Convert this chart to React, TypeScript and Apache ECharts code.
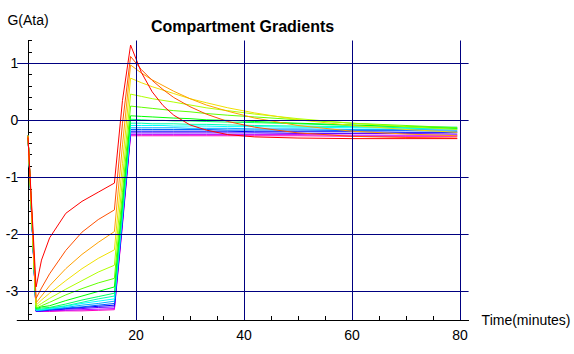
import { useEffect, useRef } from "react";
import * as echarts from "echarts";

// time (minutes)
const TIME = [0, 1.5, 2.5, 4, 7, 10, 13, 16, 17.5, 19, 21, 23, 25, 27, 30, 33, 37, 42, 50, 60, 70, 79.5];

// compartment gradients G(Ata), fastest (red) to slowest (magenta)
const C01 = [-0.30, -2.92, -2.45, -2.06, -1.63, -1.42, -1.26, -1.10, 0.35, 1.32, 0.84, 0.50, 0.26, 0.09, -0.08, -0.17, -0.25, -0.29, -0.31, -0.32, -0.32, -0.32];
const C02 = [-0.27, -3.12, -2.94, -2.69, -2.28, -1.96, -1.74, -1.57, -0.05, 1.12, 0.89, 0.70, 0.54, 0.40, 0.24, 0.11, -0.02, -0.12, -0.22, -0.28, -0.30, -0.31];
const C03 = [-0.27, -3.20, -3.08, -2.90, -2.60, -2.35, -2.14, -1.95, -0.43, 0.97, 0.83, 0.71, 0.61, 0.51, 0.38, 0.27, 0.16, 0.04, -0.09, -0.19, -0.24, -0.27];
const C04 = [-0.27, -3.24, -3.15, -3.03, -2.81, -2.60, -2.42, -2.27, -0.76, 0.74, 0.66, 0.59, 0.53, 0.47, 0.38, 0.31, 0.22, 0.13, 0.01, -0.09, -0.16, -0.21];
const C05 = [-0.27, -3.27, -3.21, -3.12, -2.96, -2.81, -2.66, -2.54, -1.03, 0.46, 0.42, 0.38, 0.35, 0.32, 0.27, 0.22, 0.17, 0.11, 0.03, -0.05, -0.11, -0.16];
const C06 = [-0.27, -3.29, -3.25, -3.19, -3.06, -2.95, -2.85, -2.77, -1.26, 0.25, 0.23, 0.21, 0.19, 0.17, 0.15, 0.12, 0.09, 0.06, 0.01, -0.05, -0.09, -0.13];
const C07 = [-0.27, -3.30, -3.27, -3.25, -3.16, -3.08, -3.00, -2.92, -1.41, 0.08, 0.07, 0.06, 0.05, 0.04, 0.03, 0.01, 0.00, -0.02, -0.05, -0.08, -0.11, -0.14];
const C08 = [-0.27, -3.31, -3.29, -3.28, -3.22, -3.15, -3.09, -3.03, -1.52, 0.02, 0.01, 0.00, 0.00, -0.01, -0.01, -0.02, -0.03, -0.04, -0.06, -0.09, -0.11, -0.12];
const C09 = [-0.27, -3.32, -3.31, -3.29, -3.25, -3.19, -3.13, -3.08, -1.58, -0.05, -0.05, -0.06, -0.06, -0.06, -0.07, -0.07, -0.08, -0.09, -0.10, -0.11, -0.13, -0.14];
const C10 = [-0.27, -3.33, -3.32, -3.30, -3.26, -3.21, -3.17, -3.13, -1.63, -0.09, -0.09, -0.09, -0.09, -0.10, -0.10, -0.10, -0.11, -0.11, -0.12, -0.13, -0.14, -0.15];
const C11 = [-0.27, -3.33, -3.33, -3.31, -3.28, -3.24, -3.21, -3.17, -1.67, -0.13, -0.13, -0.13, -0.13, -0.13, -0.14, -0.14, -0.14, -0.15, -0.15, -0.16, -0.16, -0.17];
const C12 = [-0.27, -3.34, -3.33, -3.32, -3.29, -3.27, -3.24, -3.21, -1.71, -0.16, -0.16, -0.16, -0.16, -0.16, -0.16, -0.16, -0.17, -0.17, -0.17, -0.18, -0.18, -0.19];
const C13 = [-0.27, -3.34, -3.34, -3.32, -3.30, -3.28, -3.26, -3.24, -1.74, -0.19, -0.19, -0.19, -0.19, -0.19, -0.19, -0.19, -0.19, -0.20, -0.20, -0.20, -0.21, -0.21];
const C14 = [-0.27, -3.35, -3.34, -3.33, -3.31, -3.30, -3.28, -3.27, -1.77, -0.22, -0.22, -0.22, -0.22, -0.22, -0.22, -0.22, -0.22, -0.22, -0.23, -0.23, -0.23, -0.24];
const C15 = [-0.27, -3.35, -3.35, -3.34, -3.33, -3.32, -3.31, -3.30, -1.80, -0.25, -0.25, -0.25, -0.25, -0.25, -0.25, -0.25, -0.25, -0.25, -0.25, -0.26, -0.26, -0.26];
const C16 = [-0.27, -3.35, -3.35, -3.35, -3.34, -3.34, -3.33, -3.32, -1.83, -0.27, -0.27, -0.27, -0.27, -0.27, -0.27, -0.27, -0.27, -0.27, -0.27, -0.28, -0.28, -0.28];

const COMPARTMENTS = [C01, C02, C03, C04, C05, C06, C07, C08, C09, C10, C11, C12, C13, C14, C15, C16];

const COLORS = [
  "#ff0000", "#ff5000", "#ffa000", "#f0e000", "#b0ff00", "#60ff00", "#00ff00", "#00ff60",
  "#00ffb0", "#00ffff", "#00b0ff", "#0060ff", "#0000ff", "#6000ff", "#c000ff", "#ff00c0",
];

const X_TICKS = [0, 5, 10, 15, 20, 25, 30, 35, 40, 45, 50, 55, 60, 65, 70, 75, 80];
const X_LABELS = [20, 40, 60, 80];
const Y_TICKS = [-3.4, -3.2, -3.0, -2.8, -2.6, -2.4, -2.2, -2.0, -1.8, -1.6, -1.4, -1.2, -1.0, -0.8, -0.6, -0.4, -0.2, 0, 0.2, 0.4, 0.6, 0.8, 1.0, 1.2, 1.4];
const Y_LABELS = [-3, -2, -1, 0, 1];
const X_GRID = [20, 40, 60, 80];
const Y_GRID = [-3, -2, -1, 0, 1];

export default function App() {
  const ref = useRef<HTMLDivElement>(null);
  useEffect(() => {
    if (!ref.current) return;
    const chart = echarts.init(ref.current, null, { renderer: "svg" });
    const font = "'Liberation Sans', Arial, sans-serif";
    const lines: any[] = COMPARTMENTS.map((vals, i) => ({
      type: "line",
      name: `Compartment ${i + 1}`,
      data: TIME.map((t, j) => [t, vals[j]]),
      showSymbol: false,
      symbol: "none",
      silent: true,
      z: 3,
      lineStyle: { width: 1, color: COLORS[i] },
      itemStyle: { color: COLORS[i] },
    })).reverse(); // slowest drawn first so the fast (red) compartment sits on top
    const gridSeries = {
      type: "line",
      data: [[0, null]],
      showSymbol: false,
      silent: true,
      z: 1,
      markLine: {
        silent: true,
        symbol: ["none", "none"],
        label: { show: false },
        lineStyle: { color: "#000080", width: 1, type: "solid" },
        data: [...X_GRID.map((v) => ({ xAxis: v })), ...Y_GRID.map((v) => ({ yAxis: v }))],
      },
    };
    chart.setOption({
      animation: false,
      backgroundColor: "#ffffff",
      title: {
        text: "Compartment Gradients",
        left: 146,
        top: 13,
        textStyle: { fontFamily: font, fontSize: 16, fontWeight: "bold", color: "#000" },
      },
      grid: { left: 17.2, right: 105.4, top: 40.5, bottom: 34, containLabel: false, outerBoundsMode: "none" },
      xAxis: {
        type: "value",
        min: -2,
        max: 81.6,
        name: "Time(minutes)",
        nameLocation: "end",
        nameGap: 13,
        nameTextStyle: { fontFamily: font, fontSize: 14, color: "#000" },
        axisLine: { onZero: false, lineStyle: { color: "#000", width: 1 } },
        axisTick: { show: true, inside: true, length: 4, customValues: X_TICKS, lineStyle: { color: "#000" } },
        axisLabel: { customValues: X_LABELS, fontFamily: font, fontSize: 14, color: "#000", margin: 8 },
        splitLine: { show: false },
      },
      yAxis: {
        type: "value",
        min: -3.5,
        max: 1.4,
        name: "G(Ata)",
        nameLocation: "end",
        nameGap: 14,
        nameTextStyle: { fontFamily: font, fontSize: 14, color: "#000" },
        axisLine: { onZero: true, lineStyle: { color: "#000", width: 1 } },
        axisTick: { show: true, inside: true, length: 4, customValues: Y_TICKS, lineStyle: { color: "#000" } },
        axisLabel: { customValues: Y_LABELS, fontFamily: font, fontSize: 14, color: "#000", margin: -1 },
        splitLine: { show: false },
      },
      series: [gridSeries, ...lines],
    });
    return () => chart.dispose();
  }, []);
  return <div ref={ref} style={{ position: "absolute", left: 0, top: 0, width: 574, height: 354 }} />;
}
